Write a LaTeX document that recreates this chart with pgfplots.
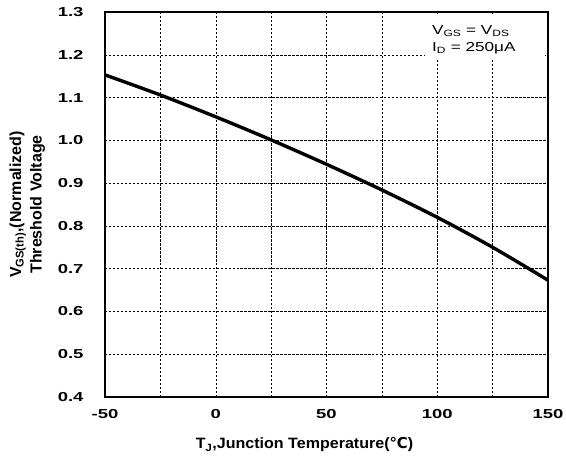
\documentclass[border=0pt]{standalone}
\usepackage{fontspec}
\setmainfont{Liberation Sans}
\newfontfamily\tickfont{Liberation Sans}[FakeStretch=1.42]
\newfontfamily\xlabfont{Liberation Sans}[FakeStretch=1.07]
\newfontfamily\annfont{Liberation Sans}[FakeStretch=1.32]
\newfontfamily\dejavu{DejaVu Sans}
\usepackage{pgfplots}
\pgfplotsset{compat=1.18}
\begin{document}
\begin{tikzpicture}
\path[use as bounding box] (-105bp,-63bp) rectangle (461bp,397bp);
\begin{axis}[
  at={(0,0)}, anchor=south west,
  scale only axis, width=443bp, height=385bp,
  xmin=-50, xmax=150, ymin=0.4, ymax=1.3,
  xtick={-50,0,50,100,150},
  minor xtick={-25,25,75,125},
  ytick={0.4,0.5,...,1.3},
  y tick label style={/pgf/number format/fixed, /pgf/number format/fixed zerofill, /pgf/number format/precision=1},
  /pgf/number format/assume math mode=true,
  tick label style={font=\tickfont\fontsize{13bp}{15bp}\selectfont\bfseries},
  xticklabel style={yshift=-9bp},
  yticklabel style={xshift=-18bp},
  major tick length=0pt, minor tick length=0pt,
  grid=both,
  major grid style={black, line width=0.5pt, dash pattern=on 2.5pt off 1.5pt},
  minor grid style={black, line width=0.5pt, dash pattern=on 2.5pt off 1.5pt},
  axis line style={black, line width=1.1pt},
  xlabel={T\textsubscript{J},Junction Temperature({\dejavu\bfseries ℃})},
  xlabel style={font=\xlabfont\fontsize{15bp}{17bp}\selectfont\bfseries, yshift=-12bp, xshift=-22bp},
  ylabel={V\textsubscript{GS(th)},(Normalized)\\Threshold Voltage},
  ylabel style={font=\fontsize{16bp}{20.5bp}\selectfont\bfseries, align=center, yshift=6bp},
  clip=true,
]
\addplot[black, line width=3.4bp, smooth] coordinates {
  (-50,1.153) (-25,1.106) (0,1.055) (25,1.001) (50,0.944)
  (75,0.884) (100,0.820) (125,0.750) (150,0.673)
};
\fill[white] (axis cs:94.5,1.293) rectangle (axis cs:148.6,1.188);
\node[inner sep=0pt, anchor=west, font=\annfont\fontsize{13bp}{15bp}\selectfont]
  at (axis cs:97.6,1.2554) {V\textsubscript{GS} = V\textsubscript{DS}};
\node[inner sep=0pt, anchor=west, font=\annfont\fontsize{13bp}{15bp}\selectfont]
  at (axis cs:97.6,1.2155) {I\textsubscript{D} = 250μA};
\end{axis}
\end{tikzpicture}
\end{document}
